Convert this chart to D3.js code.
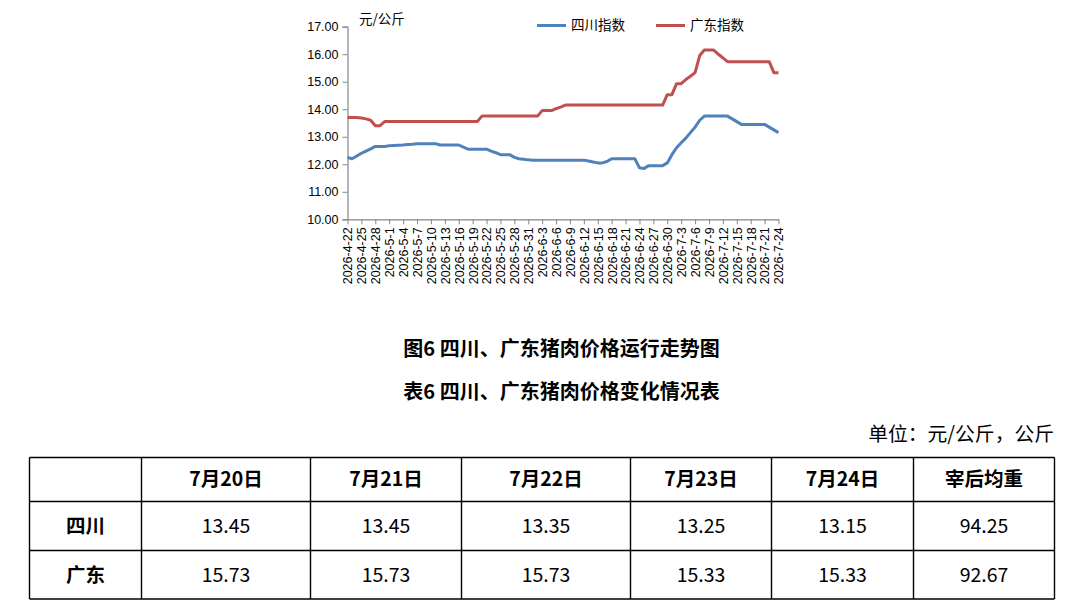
<!DOCTYPE html>
<html>
<head>
<meta charset="utf-8">
<script src="https://cdn.jsdelivr.net/npm/d3@7"></script>
<style>
  html, body { margin: 0; padding: 0; background: #fff; }
  svg { display: block; }
</style>
</head>
<body>
<svg id="chart" width="1066" height="607"></svg>
<script>
// daily dates, 2026-4-22 .. 2026-7-24
let dates = [
  "2026-4-22","2026-4-23","2026-4-24","2026-4-25","2026-4-26","2026-4-27","2026-4-28","2026-4-29","2026-4-30",
  "2026-5-1","2026-5-2","2026-5-3","2026-5-4","2026-5-5","2026-5-6","2026-5-7","2026-5-8","2026-5-9","2026-5-10",
  "2026-5-11","2026-5-12","2026-5-13","2026-5-14","2026-5-15","2026-5-16","2026-5-17","2026-5-18","2026-5-19","2026-5-20",
  "2026-5-21","2026-5-22","2026-5-23","2026-5-24","2026-5-25","2026-5-26","2026-5-27","2026-5-28","2026-5-29","2026-5-30","2026-5-31",
  "2026-6-1","2026-6-2","2026-6-3","2026-6-4","2026-6-5","2026-6-6","2026-6-7","2026-6-8","2026-6-9","2026-6-10",
  "2026-6-11","2026-6-12","2026-6-13","2026-6-14","2026-6-15","2026-6-16","2026-6-17","2026-6-18","2026-6-19","2026-6-20",
  "2026-6-21","2026-6-22","2026-6-23","2026-6-24","2026-6-25","2026-6-26","2026-6-27","2026-6-28","2026-6-29","2026-6-30",
  "2026-7-1","2026-7-2","2026-7-3","2026-7-4","2026-7-5","2026-7-6","2026-7-7","2026-7-8","2026-7-9","2026-7-10",
  "2026-7-11","2026-7-12","2026-7-13","2026-7-14","2026-7-15","2026-7-16","2026-7-17","2026-7-18","2026-7-19","2026-7-20",
  "2026-7-21","2026-7-22","2026-7-23","2026-7-24"
];

let sichuan = [
  12.25,12.20,12.30,12.40,12.48,12.56,12.65,12.65,12.65,12.67,
  12.68,12.69,12.70,12.72,12.73,12.75,12.75,12.75,12.75,12.75,
  12.70,12.70,12.70,12.70,12.70,12.62,12.55,12.55,12.55,12.55,
  12.55,12.48,12.42,12.35,12.35,12.35,12.25,12.20,12.18,12.16,
  12.15,12.15,12.15,12.15,12.15,12.15,12.15,12.15,12.15,12.15,
  12.15,12.15,12.12,12.08,12.05,12.05,12.10,12.20,12.20,12.20,
  12.20,12.20,12.20,11.87,11.85,11.95,11.95,11.95,11.95,12.05,
  12.35,12.60,12.78,12.95,13.15,13.35,13.60,13.75,13.75,13.75,
  13.75,13.75,13.75,13.65,13.55,13.45,13.45,13.45,13.45,13.45,
  13.45,13.35,13.25,13.15
];

let guangdong = [
  13.70,13.70,13.70,13.68,13.65,13.60,13.40,13.40,13.55,13.55,
  13.55,13.55,13.55,13.55,13.55,13.55,13.55,13.55,13.55,13.55,
  13.55,13.55,13.55,13.55,13.55,13.55,13.55,13.55,13.55,13.75,
  13.75,13.75,13.75,13.75,13.75,13.75,13.75,13.75,13.75,13.75,
  13.75,13.75,13.95,13.95,13.95,14.02,14.08,14.15,14.15,14.15,
  14.15,14.15,14.15,14.15,14.15,14.15,14.15,14.15,14.15,14.15,
  14.15,14.15,14.15,14.15,14.15,14.15,14.15,14.15,14.15,14.53,
  14.53,14.93,14.93,15.08,15.20,15.33,15.95,16.15,16.15,16.15,
  16.00,15.87,15.73,15.73,15.73,15.73,15.73,15.73,15.73,15.73,
  15.73,15.73,15.33,15.33
];

let seriesNames = ["四川指数", "广东指数"];
let seriesColors = ["#4F81BD", "#C0504D"];
let yTicks = [10, 11, 12, 13, 14, 15, 16, 17];

// table
let tableHeader = ["", "7月20日", "7月21日", "7月22日", "7月23日", "7月24日", "宰后均重"];
let tableRows = [
  ["四川", "13.45", "13.45", "13.35", "13.25", "13.15", "94.25"],
  ["广东", "15.73", "15.73", "15.73", "15.33", "15.33", "92.67"]
];

let svg = d3.select("#chart");
let numFont = "'Liberation Sans', 'Noto Sans CJK SC', sans-serif";
let cjkFont = "'Noto Sans CJK SC', 'Liberation Sans', sans-serif";
let axisColor = "#868686";

let x0 = 347.5, x1 = 778.5, yTop = 26.7, yBot = 219.3;

let xScale = d3.scalePoint().domain(dates).range([x0, x1]);
let yScale = d3.scaleLinear().domain([10, 17]).range([yBot, yTop]);

let chartG = svg.append("g");

// Y axis
let yAxisG = chartG.append("g")
    .attr("transform", `translate(${x0},0)`)
    .call(d3.axisLeft(yScale).tickValues(yTicks).tickSize(5).tickPadding(4).tickFormat(d3.format(".2f")));
yAxisG.select(".domain").attr("stroke", axisColor).attr("stroke-width", 1.2);
yAxisG.selectAll(".tick line").attr("stroke", axisColor);
yAxisG.selectAll("text")
    .attr("font-family", numFont)
    .attr("font-size", "12.5px")
    .attr("fill", "#000");

// X axis, a tick every 3 days
let tickDates = dates.filter((d, i) => i % 3 === 0);
let xAxisG = chartG.append("g")
    .attr("transform", `translate(0,${yBot})`)
    .call(d3.axisBottom(xScale).tickValues(tickDates).tickSize(5).tickSizeOuter(0));
xAxisG.select(".domain").attr("stroke", axisColor).attr("stroke-width", 1.2);
xAxisG.selectAll(".tick line").attr("stroke", axisColor);
xAxisG.selectAll("text")
    .attr("font-family", numFont)
    .attr("font-size", "12.5px")
    .attr("fill", "#000")
    .attr("transform", "rotate(-90)")
    .attr("x", -8)
    .attr("y", 0)
    .attr("dy", "0.35em")
    .style("text-anchor", "end");

// Lines
let line = d3.line()
    .x((d, i) => xScale(dates[i]))
    .y(d => yScale(d));

[sichuan, guangdong].forEach((vals, k) => {
    chartG.append("path")
        .datum(vals)
        .attr("fill", "none")
        .attr("stroke", seriesColors[k])
        .attr("stroke-width", 3)
        .attr("stroke-linejoin", "round")
        .attr("d", line);
});

// Unit label
chartG.append("text")
    .attr("x", 359)
    .attr("y", 19.5)
    .attr("dy", "0.35em")
    .attr("font-family", cjkFont)
    .attr("font-size", "13.5px")
    .text("元/公斤");

// Legend
let legendX = [537, 656];
seriesNames.forEach((name, k) => {
    chartG.append("line")
        .attr("x1", legendX[k]).attr("x2", legendX[k] + 29)
        .attr("y1", 25.5).attr("y2", 25.5)
        .attr("stroke", seriesColors[k])
        .attr("stroke-width", 3);
    chartG.append("text")
        .attr("x", legendX[k] + 34)
        .attr("y", 25.5)
        .attr("dy", "0.35em")
        .attr("font-family", cjkFont)
        .attr("font-size", "13.5px")
        .text(name);
});

// Captions
svg.append("text")
    .attr("x", 561.5).attr("y", 356)
    .attr("text-anchor", "middle")
    .attr("font-family", cjkFont)
    .attr("font-size", "20px")
    .attr("font-weight", "bold")
    .text("图6 四川、广东猪肉价格运行走势图");

svg.append("text")
    .attr("x", 561.5).attr("y", 399)
    .attr("text-anchor", "middle")
    .attr("font-family", cjkFont)
    .attr("font-size", "20px")
    .attr("font-weight", "bold")
    .text("表6 四川、广东猪肉价格变化情况表");

svg.append("text")
    .attr("x", 1054).attr("y", 441)
    .attr("text-anchor", "end")
    .attr("font-family", cjkFont)
    .attr("font-size", "19.8px")
    .text("单位：元/公斤，公斤");

// Table
let colX = [29.5, 141.5, 310.5, 461.5, 630.5, 771.5, 913.5, 1054.5];
let rowY = [457.5, 501.5, 550.5, 599];
let tableG = svg.append("g");

colX.forEach(cx => {
    tableG.append("line")
        .attr("x1", cx).attr("x2", cx)
        .attr("y1", rowY[0]).attr("y2", rowY[rowY.length - 1])
        .attr("stroke", "#000").attr("stroke-width", 1.4);
});
rowY.forEach(ry => {
    tableG.append("line")
        .attr("x1", colX[0]).attr("x2", colX[colX.length - 1])
        .attr("y1", ry).attr("y2", ry)
        .attr("stroke", "#000").attr("stroke-width", 1.4);
});

let allRows = [tableHeader].concat(tableRows);
allRows.forEach((row, r) => {
    row.forEach((cell, c) => {
        if (!cell) return;
        let bold = r === 0 || c === 0;
        tableG.append("text")
            .attr("x", (colX[c] + colX[c + 1]) / 2)
            .attr("y", (rowY[r] + rowY[r + 1]) / 2)
            .attr("dy", "0.35em")
            .attr("text-anchor", "middle")
            .attr("font-family", cjkFont)
            .attr("font-size", "19.5px")
            .attr("font-weight", bold ? "bold" : "normal")
            .text(cell);
    });
});
</script>
</body>
</html>
